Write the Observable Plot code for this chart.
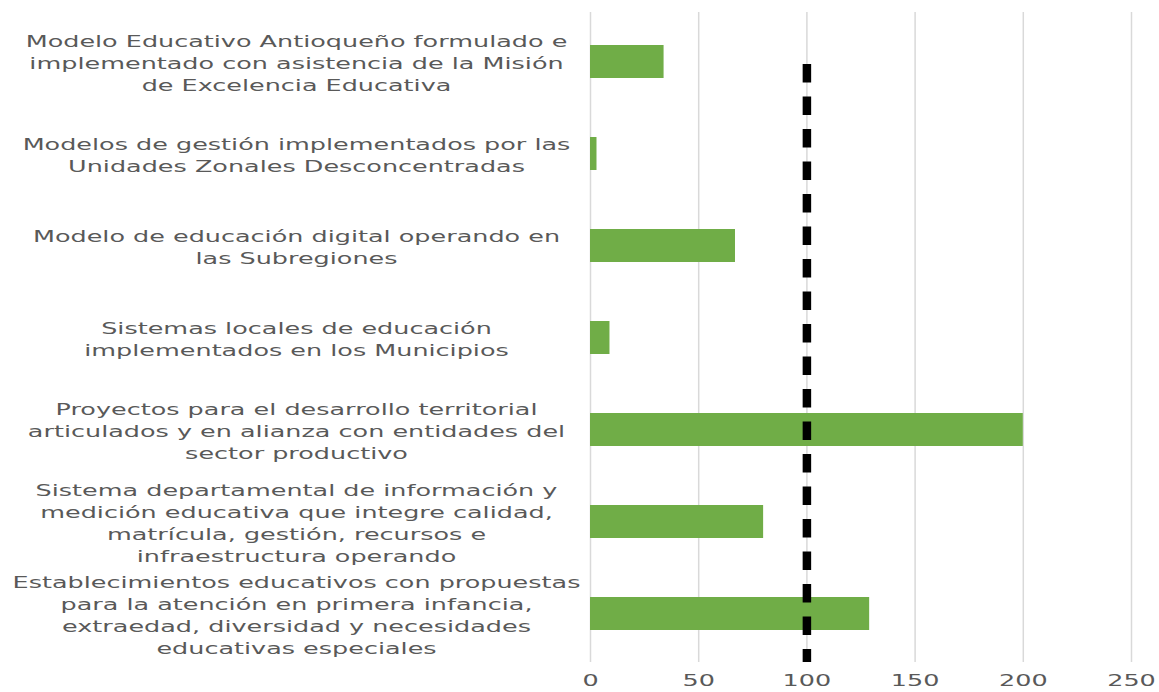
<!DOCTYPE html>
<html><head><meta charset="utf-8">
<script src="https://cdn.jsdelivr.net/npm/d3@7"></script>
<script src="https://cdn.jsdelivr.net/npm/@observablehq/plot@0.6"></script>
<style>body{margin:0;background:#fff} #chart svg{display:block}</style>
</head><body><div id="chart"></div>
<script>
const categories = [
  "Modelo Educativo Antioqueño formulado e\nimplementado con asistencia de la Misión\nde Excelencia Educativa",
  "Modelos de gestión implementados por las\nUnidades Zonales Desconcentradas",
  "Modelo de educación digital operando en\nlas Subregiones",
  "Sistemas locales de educación\nimplementados en los Municipios",
  "Proyectos para el desarrollo territorial\narticulados y en alianza con entidades del\nsector productivo",
  "Sistema departamental de información y\nmedición educativa que integre calidad,\nmatrícula, gestión, recursos e\ninfraestructura operando",
  "Establecimientos educativos con propuestas\npara la atención en primera infancia,\nextraedad, diversidad y necesidades\neducativas especiales"
];
const values = [34, 3, 67, 9, 200, 80, 129];
const xTicks = [0, 50, 100, 150, 200, 250];
const target = [100];

const data = categories.map((c, i) => ({label: c, value: values[i]}));

const chart = Plot.plot({
  width: 1159, height: 692,
  marginLeft: 590, marginRight: 28, marginTop: 12, marginBottom: 30,
  style: {fontFamily: "DejaVu Sans", fontSize: "16px", color: "#595959", background: "#fff"},
  x: {domain: [0, 250], ticks: xTicks, tickSize: 0, tickPadding: 12, label: null},
  y: {domain: categories, paddingInner: 0.645, paddingOuter: 0.3225, axis: null, label: null},
  marks: [
    Plot.ruleX(xTicks, {stroke: "#d9d9d9", strokeWidth: 1.5}),
    Plot.barX(data, {x: "value", y: "label", fill: "#70ad47"}),
    Plot.ruleX(target, {stroke: "#000", strokeWidth: 8.5, strokeDasharray: "18.5,14", insetTop: 52}),
    Plot.text(data, {y: "label", text: "label", frameAnchor: "left", textAnchor: "middle", dx: -294,
      lineAnchor: "middle", lineHeight: 1.36, fill: "#595959", fontSize: 16})
  ]
});
document.getElementById("chart").appendChild(chart);

// horizontally stretch text to match the reference's wide lettering
const svg = chart.tagName.toLowerCase() === "svg" ? chart : chart.querySelector("svg");
let s = 1.3;
const tsp = Array.from(svg.querySelectorAll("tspan, text")).find(t => t.textContent === "Establecimientos educativos con propuestas");
if (tsp && tsp.getComputedTextLength) { const w = tsp.getComputedTextLength(); if (w > 0) s = 568 / w; }
svg.querySelectorAll("text").forEach(t => {
  const tr = t.getAttribute("transform") || "";
  t.setAttribute("transform", tr + ` scale(${s},1)`);
});
svg.querySelectorAll("[aria-label='x-axis'] text, [aria-label='x-axis tick label'] text").forEach(t => t.setAttribute("fill", "#595959"));
</script>
</body></html>
